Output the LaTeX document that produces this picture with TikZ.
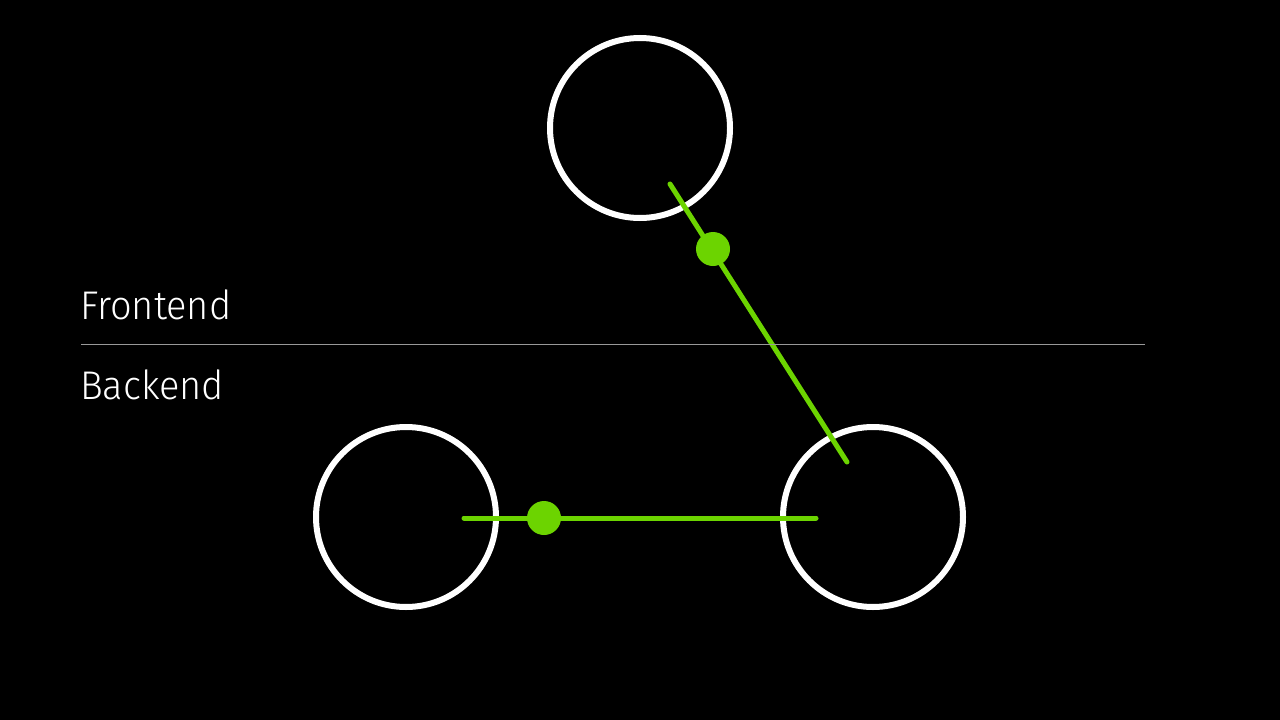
\documentclass[tikz,border=0pt]{standalone}
\usepackage{fontspec}
\newfontfamily\lightfont{Fira Sans Light}
\definecolor{lime}{HTML}{6CD400}
\newcommand{\narrowtext}[1]{\scalebox{0.95}[1]{#1}}
\begin{document}
\begin{tikzpicture}[x=1pt,y=-1pt,
  ring/.style={circle,draw=white,line width=6pt,minimum size=180pt,inner sep=0pt},
  link/.style={draw=lime,line width=5pt,line cap=round},
  dot/.style={circle,fill=lime,minimum size=34pt,inner sep=0pt},
  label/.style={anchor=base west,inner sep=0pt,text=white,font=\lightfont\fontsize{40}{48}\selectfont}]
\fill[black] (0,0) rectangle (1280,720);
\useasboundingbox (0,0) rectangle (1280,720);
\node[ring] (top) at (640,128) {};
\node[ring] (left) at (406,517) {};
\node[ring] (right) at (873,517) {};
\coordinate (a1) at (670,184);
\coordinate (a2) at (847,462);
\coordinate (b1) at (464,518);
\coordinate (b2) at (816,518);
\draw[link] (a1) -- (a2);
\draw[link] (b1) -- (b2);
\node[dot] (d1) at (713,249) {};
\node[dot] (d2) at (544,518) {};
\coordinate (s1) at (81,344);
\coordinate (s2) at (1145,344);
\draw[gray!80,line width=1pt] (s1) -- (s2);
\node[label] (fe) at (80,319) {\narrowtext{Frontend}};
\node[label] (be) at (80,399) {\narrowtext{Backend}};
\end{tikzpicture}
\end{document}
